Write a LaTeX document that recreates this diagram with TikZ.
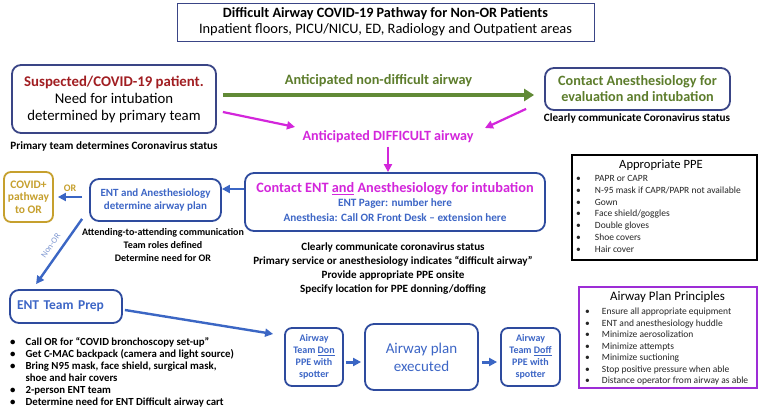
\documentclass[tikz,border=0pt]{standalone}
\usepackage{fontspec}
\setmainfont{Carlito}
\usetikzlibrary{arrows.meta}

\definecolor{navy}{HTML}{3A4586}
\definecolor{boxblue}{HTML}{2E4B9E}
\definecolor{txtblue}{HTML}{3D66C6}
\definecolor{arrowblue}{HTML}{3B66C4}
\definecolor{darkred}{HTML}{A11E22}
\definecolor{leafgreen}{HTML}{5D7D2C}
\definecolor{arrowgreen}{HTML}{618A36}
\definecolor{pink}{HTML}{D326DB}
\definecolor{gold}{HTML}{C6A02E}
\definecolor{purple}{HTML}{9D2DD6}
\definecolor{listgray}{HTML}{262626}
\definecolor{paleblue}{HTML}{7F98D2}
\newcommand\setfs[2]{\fontsize{#1}{#2}\selectfont}

\begin{document}
\begin{tikzpicture}[x=1pt,y=-1pt,
  rbox/.style={draw=navy,line width=1.8pt,rounded corners=9pt,align=center,inner sep=0pt},
  notetext/.style={align=center,font=\setfs{11.2}{13}\bfseries},
  greenarrow/.style={draw=arrowgreen,line width=4pt,-{Triangle[length=10pt,width=12pt]}},
  pinkarrow/.style={draw=pink,line width=2.2pt,-{Triangle[length=8pt,width=8pt]}},
  bluearrow/.style={draw=arrowblue,line width=2.4pt,-{Triangle[length=8pt,width=8pt]}}]
  \useasboundingbox[fill=white] (0,0) rectangle (764,417);

  %title
  \node[draw=navy,line width=0.9pt,minimum width=417,minimum height=38,align=center,inner sep=0pt,
    font=\setfs{14.4}{16}] (title) at (385.5,22)
    {{\bfseries\setfs{14.2}{16}Difficult Airway COVID-19 Pathway for Non-OR Patients}\\Inpatient floors, PICU/NICU, ED, Radiology and Outpatient areas};

  %top row
  \node[rbox,minimum width=204,minimum height=68,font=\setfs{14.8}{17}] (susp) at (114,99)
    {{\color{darkred}\bfseries Suspected/COVID-19 patient.}\\Need for intubation\\determined by primary team};
  \node[notetext] (primnote) at (114,146) {Primary team determines Coronavirus status};
  \node[rbox,minimum width=185,minimum height=42,text=leafgreen,font=\setfs{14.2}{16}\bfseries] (anes) at (637.5,89)
    {Contact Anesthesiology for\\evaluation and intubation};
  \node[notetext] (anesnote) at (637,118) {Clearly communicate Coronavirus status};
  \node[text=pink,font=\setfs{14.1}{16}\bfseries] (difflbl) at (388,137) {Anticipated DIFFICULT airway};

  %middle row
  \node[rbox,draw=boxblue,minimum width=300,minimum height=58,text=txtblue,font=\setfs{11.2}{14.5}\bfseries] (entc) at (395,202)
    {{\color{pink}\setfs{14.3}{14.5}Contact ENT \underline{and} Anesthesiology for intubation}\\ENT Pager: number here\\Anesthesia: Call OR Front Desk -- extension here};
  \node[notetext,font=\setfs{11.1}{14}\bfseries] (entnote) at (393,269)
    {Clearly communicate coronavirus status\\Primary service or anesthesiology indicates “difficult airway”\\Provide appropriate PPE onsite\\Specify location for PPE donning/doffing};
  \node[rbox,draw=boxblue,minimum width=131,minimum height=42,text=txtblue,font=\setfs{11}{13}\bfseries] (plan) at (155.5,200)
    {ENT and Anesthesiology\\determine airway plan};
  \node[notetext,font=\setfs{10}{13}\bfseries] (plannote) at (163,245) {Attending-to-attending communication\\Team roles defined\\Determine need for OR};
  \node[rbox,draw=gold,rounded corners=7pt,minimum width=49,minimum height=50,text=gold,font=\setfs{11.5}{12.5}\bfseries] (orbox) at (28.5,197)
    {COVID+\\pathway\\to OR};

  %bottom row
  \node[rbox,draw=boxblue,minimum width=112,minimum height=33,text width=98,align=left,text=txtblue,font=\setfs{13.5}{17}\bfseries] (prep) at (66,306.5) {ENT Team Prep};
  \node[anchor=north west,inner sep=0pt,font=\setfs{10.8}{12}\bfseries] (preplist) at (10,337)
    {\begin{tabular}{@{}l@{\hspace{10pt}}l@{}}
      \textbullet & Call OR for “COVID bronchoscopy set-up”\\
      \textbullet & Get C-MAC backpack (camera and light source)\\
      \textbullet & Bring N95 mask, face shield, surgical mask,\\
                  & shoe and hair covers\\
      \textbullet & 2-person ENT team\\
      \textbullet & Determine need for ENT Difficult airway cart
    \end{tabular}};
  \node[rbox,draw=boxblue,rounded corners=7pt,minimum width=58,minimum height=58,text=txtblue,font=\setfs{10}{12}\bfseries] (don) at (314,357)
    {Airway\\Team \underline{Don}\\PPE with\\spotter};
  \node[rbox,draw=boxblue,minimum width=113,minimum height=66,text=txtblue,font=\setfs{15}{18}] (exec) at (421.5,357)
    {Airway plan\\executed};
  \node[rbox,draw=boxblue,rounded corners=7pt,minimum width=59,minimum height=58,text=txtblue,font=\setfs{10}{12}\bfseries] (doff) at (530.5,357)
    {Airway\\Team \underline{Doff}\\PPE with\\spotter};

  %side boxes
  \node[draw=black,line width=1.5pt,minimum width=185,minimum height=105,inner sep=0pt] (ppe) at (664.5,207.5) {};
  \node[font=\setfs{12.6}{16}] (ppetitle) at (661,165) {Appropriate PPE};
  \node[anchor=north west,inner sep=0pt,text=listgray,font=\setfs{9.5}{11.7}] (ppelist) at (576,173.5)
    {\begin{tabular}{@{}l@{\hspace{14pt}}l@{}}
      \textbullet & PAPR or CAPR\\
      \textbullet & N-95 mask if CAPR/PAPR not available\\
      \textbullet & Gown\\
      \textbullet & Face shield/goggles\\
      \textbullet & Double gloves\\
      \textbullet & Shoe covers\\
      \textbullet & Hair cover
    \end{tabular}};
  \node[draw=purple,line width=2.5pt,minimum width=178,minimum height=101,inner sep=0pt] (rules) at (668,337.5) {};
  \node[font=\setfs{12.9}{16}] (rulestitle) at (667.5,297) {Airway Plan Principles};
  \node[anchor=north west,inner sep=0pt,text=listgray,font=\setfs{9.5}{11.5}] (ruleslist) at (585,306.5)
    {\begin{tabular}{@{}l@{\hspace{12pt}}l@{}}
      \textbullet & Ensure all appropriate equipment\\
      \textbullet & ENT and anesthesiology huddle\\
      \textbullet & Minimize aerosolization\\
      \textbullet & Minimize attempts\\
      \textbullet & Minimize suctioning\\
      \textbullet & Stop positive pressure when able\\
      \textbullet & Distance operator from airway as able
    \end{tabular}};

  %arrows
  \draw[greenarrow] ([shift={(6,-4)}]susp.east) -- node[midway,above=3pt,text=leafgreen,font=\setfs{14.3}{15}\bfseries] (nondiff) {Anticipated non-difficult airway} ([shift={(-10,6)}]anes.west);
  \draw[pinkarrow] ([shift={(6,13)}]susp.east) -- ([shift={(-4,-10)}]difflbl.west);
  \draw[pinkarrow] ([shift={(-18,-2)}]anes.south west) -- ([shift={(8,-9)}]difflbl.east);
  \draw[pinkarrow] (difflbl.south) -- (difflbl.south |- entc.north);
  \draw[bluearrow] ([yshift=13pt]entc.west) -- ([yshift=11pt]plan.east);
  \draw[bluearrow] ([shift={(-7,-3)}]plan.west) -- node[midway,above=1pt,text=gold,font=\setfs{10}{12}\bfseries] (orlbl) {OR} ([shift={(4,0)}]orbox.east);
  \draw[bluearrow] ([shift={(-7,-3)}]plan.south west) -- node[midway,sloped,above=3pt,text=paleblue,font=\setfs{8.5}{10}] (nonor) {Non-OR} ([shift={(27,-5)}]prep.north west);
  \draw[bluearrow] ([shift={(2,3.5)}]prep.east) -- ([shift={(-11,-23)}]don.west);
  \draw[bluearrow,line width=3pt] ([shift={(2,5)}]don.east) -- ([shift={(-3,5)}]exec.west);
  \draw[bluearrow,line width=3pt] ([shift={(3,5)}]exec.east) -- ([shift={(-3,5)}]doff.west);
\end{tikzpicture}
\end{document}
